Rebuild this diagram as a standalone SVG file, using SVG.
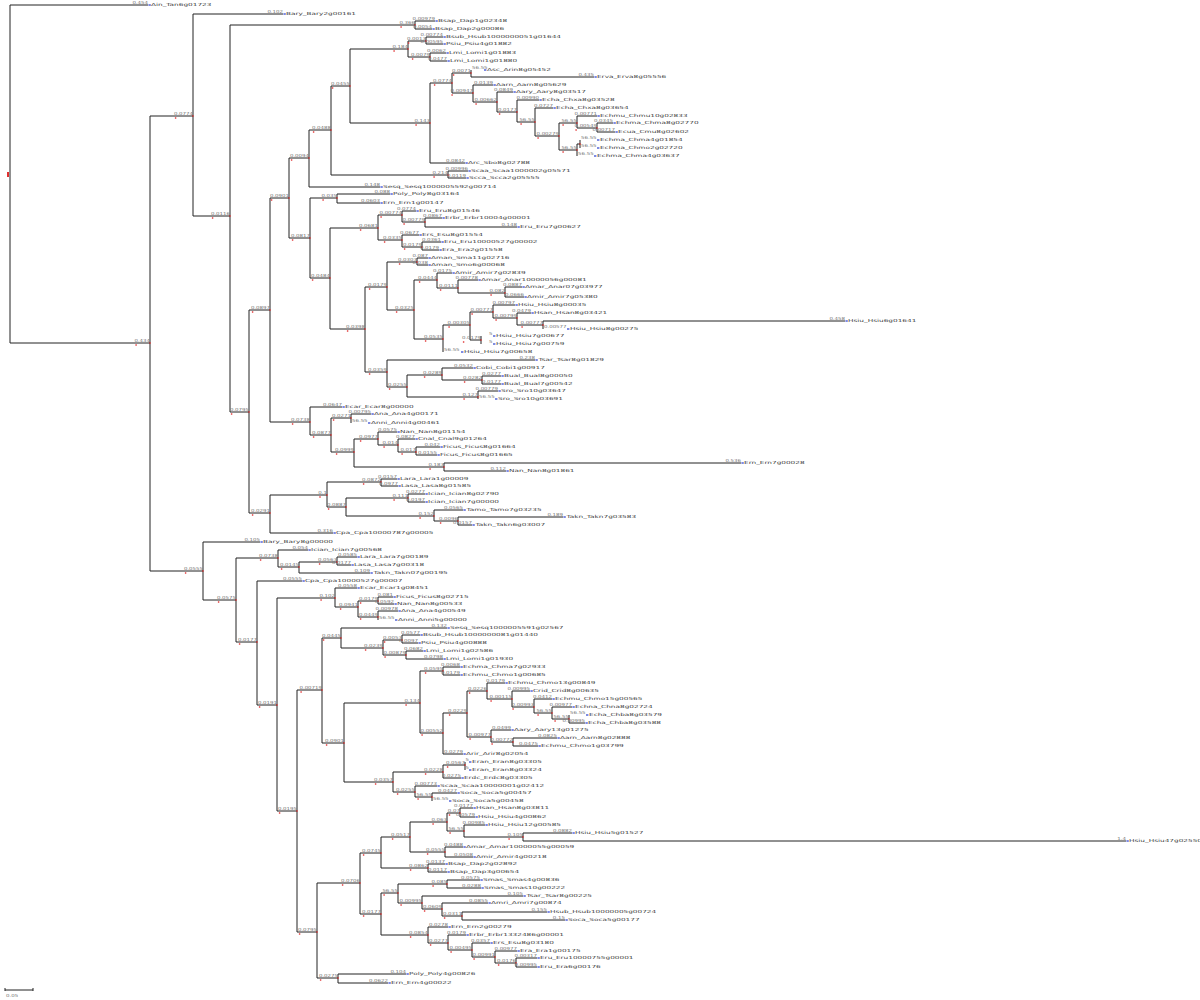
<svg xmlns="http://www.w3.org/2000/svg" width="1200" height="1000" viewBox="0 0 1200 1000">
<style>
.b{font-family:"DejaVu Sans",sans-serif;font-size:4.2px;fill:#777;text-anchor:end;transform-box:fill-box;transform-origin:100% 50%;transform:scaleX(1.3)}
.bs{font-family:"DejaVu Sans",sans-serif;font-size:4.2px;fill:#777;transform-box:fill-box;transform-origin:0 50%;transform:scaleX(1.3)}
.t{font-family:"DejaVu Sans",sans-serif;font-size:4.2px;fill:#444;transform-box:fill-box;transform-origin:0 50%;transform:scaleX(1.75)}
.m{fill:#2a3fd0;width:2.4px;height:1.2px}
.r{fill:#e03030;width:1.4px;height:1.4px}
</style>
<rect width="1200" height="1000" fill="#fff"/>
<g id="connectors" fill="none" stroke="#222" stroke-width="1">
<path d="M10 5V343M10 5H148"/>
<path d="M10 343H150M150 116V571"/>
<path d="M150 116H193M193 14V216M193 14H283"/>
<path d="M193 216H230M230 25V412"/>
<path d="M230 25H415M415 21V29M415 21H435M415 29H432"/>
<path d="M230 412H249M249 310V513"/>
<path d="M249 310H270M270 198V422"/>
<path d="M270 198H289M289 158V238"/>
<path d="M289 158H309M309 130V187M309 187H380"/>
<path d="M309 130H331M331 86V175"/>
<path d="M331 86H350M350 49V123"/>
<path d="M350 49H408M408 41V57"/>
<path d="M408 41H426M426 37V44M426 37H443M426 44H443"/>
<path d="M408 57H430M430 53V61M430 53H446M430 61H447"/>
<path d="M350 123H430M430 83V163M430 163H465"/>
<path d="M430 83H452M452 73V93"/>
<path d="M452 73H471M471 70V77M471 77H594"/>
<path d="M452 93H473M473 85V102M473 85H493"/>
<path d="M473 102H497M497 92V112M497 92H513"/>
<path d="M497 112H517M517 100V122M517 100H539"/>
<path d="M517 122H535M535 108V136M535 108H553"/>
<path d="M535 136H559M559 123V150"/>
<path d="M559 123H577M577 116V128M577 116H597"/>
<path d="M577 128H597M597 123V132M597 123H613M597 132H615"/>
<path d="M559 150H577M577 144V156M577 144H580M580 140V148"/>
<path d="M331 175H448M448 171V178M448 171H468M448 178H466"/>
<path d="M289 238H310M310 198V278"/>
<path d="M310 198H337M337 194V203M337 194H390M337 203H380"/>
<path d="M310 278H330M330 228V329"/>
<path d="M330 228H378M378 215V240"/>
<path d="M378 215H402M402 211V222M402 211H416"/>
<path d="M402 222H425M425 218V227M425 218H442M425 227H517"/>
<path d="M378 240H402M402 235V247M402 235H419"/>
<path d="M402 247H422M422 242V250M422 242H441M422 250H439"/>
<path d="M330 329H365M365 287V372"/>
<path d="M365 287H387M387 262V310"/>
<path d="M387 262H417M417 258V265M417 258H428M417 265H428"/>
<path d="M387 310H414M414 280V339"/>
<path d="M414 280H437M437 273V288M437 273H452"/>
<path d="M437 288H458M458 280V293M458 280H478"/>
<path d="M458 293H505M505 287V297M505 287H522M505 297H524"/>
<path d="M414 339H443M443 325V352"/>
<path d="M443 325H470M470 312V340"/>
<path d="M470 312H493M493 305V318M493 305H515"/>
<path d="M493 318H517M517 313V325M517 313H531"/>
<path d="M517 325H543M543 321V329M543 321H845"/>
<path d="M470 340H481M481 336V344"/>
<path d="M365 372H387M387 360V387M387 360H535"/>
<path d="M387 387H407M407 375V397"/>
<path d="M407 375H442M442 368V380M442 368H473"/>
<path d="M442 380H482M482 376V384M482 376H501M482 384H501"/>
<path d="M407 397H478M478 391V399M478 391H498"/>
<path d="M270 422H310M310 407V435M310 407H342"/>
<path d="M310 435H331M331 418V452"/>
<path d="M331 418H351M351 414V423M351 414H371"/>
<path d="M331 452H354M354 439V467"/>
<path d="M354 439H378M378 432V445M378 432H397"/>
<path d="M378 445H398M398 439V452M398 439H415"/>
<path d="M398 452H416M416 447V455M416 447H440M416 455H437"/>
<path d="M354 467H444M444 463V471M444 463H741M444 471H506"/>
<path d="M249 513H270M270 495V533M270 533H333"/>
<path d="M270 495H327M327 482V507"/>
<path d="M327 482H381M381 479V486M381 479H397M381 486H398"/>
<path d="M327 507H346M346 498V516"/>
<path d="M346 498H408M408 494V502M408 494H425M408 502H425"/>
<path d="M346 516H434M434 510V521M434 510H463"/>
<path d="M434 521H458M458 517V525M458 517H563M458 525H472"/>
<path d="M150 571H203M203 542V600M203 542H260"/>
<path d="M203 600H236M236 558V642"/>
<path d="M236 558H278M278 550V567M278 550H308"/>
<path d="M278 567H299M299 562V573M299 573H370"/>
<path d="M299 562H337M337 557V565M337 557H357M337 565H351"/>
<path d="M236 642H257M257 581V705M257 581H302"/>
<path d="M257 705H277M277 598V811"/>
<path d="M277 598H335M335 588V607M335 588H357"/>
<path d="M335 607H358M358 601V617"/>
<path d="M358 601H378M378 597V604M378 597H393M378 604H394"/>
<path d="M358 617H378M378 611V620M378 611H398"/>
<path d="M277 811H297M297 690V932"/>
<path d="M297 690H322M322 638V743"/>
<path d="M322 638H341M341 628V648M341 628H447"/>
<path d="M341 648H383M383 640V655"/>
<path d="M383 640H402M402 635V643M402 635H420M402 643H418"/>
<path d="M383 655H406M406 651V659M406 651H423M406 659H443"/>
<path d="M322 743H344M344 703V782"/>
<path d="M344 703H420M420 671V733"/>
<path d="M420 671H443M443 667V675M443 667H460M443 675H460"/>
<path d="M420 733H443M443 713V754M443 754H463"/>
<path d="M443 713H467M467 691V737"/>
<path d="M467 691H487M487 683V699M487 683H505"/>
<path d="M487 699H512M512 691V707M512 691H530"/>
<path d="M512 707H534M534 699V713M534 699H552"/>
<path d="M534 713H552M552 707V719M552 707H572"/>
<path d="M552 719H569M569 715V723M569 723H585"/>
<path d="M467 737H491M491 730V742M491 730H511"/>
<path d="M491 742H513M513 738V746M513 738H557M513 746H538"/>
<path d="M344 782H393M393 772V792"/>
<path d="M393 772H443M443 765V778M443 778H461"/>
<path d="M443 765H465M465 762V770"/>
<path d="M393 792H415M415 786V797M415 786H437"/>
<path d="M415 797H432M432 793V801M432 793H457"/>
<path d="M297 932H317M317 883V978"/>
<path d="M317 883H360M360 853V914"/>
<path d="M360 853H381M381 837V868"/>
<path d="M381 837H410M410 822V852"/>
<path d="M410 822H447M447 813V831"/>
<path d="M447 813H460M460 808V817M460 808H473M460 817H475"/>
<path d="M447 831H464M464 825V837M464 825H485"/>
<path d="M464 837H523M523 833V841M523 833H572M523 841H1126"/>
<path d="M410 852H445M445 847V857M445 847H463M445 857H473"/>
<path d="M381 868H428M428 864V872M428 864H445M428 872H447"/>
<path d="M360 914H381M381 893V935"/>
<path d="M381 893H398M398 884V903"/>
<path d="M398 884H447M447 880V888M447 880H480M447 888H481"/>
<path d="M398 903H422M422 896V909M422 896H523"/>
<path d="M422 909H442M442 903V916M442 903H488"/>
<path d="M442 916H462M462 912V920M462 912H547M462 920H565"/>
<path d="M381 935H428M428 927V943M428 927H448"/>
<path d="M428 943H448M448 935V950M448 935H466"/>
<path d="M448 950H472M472 943V957M472 943H490"/>
<path d="M472 957H495M495 951V963M495 951H517"/>
<path d="M495 963H516M516 958V967M516 958H537M516 967H537"/>
<path d="M317 978H338M338 974V983M338 974H406M338 983H388"/>
</g>
<g id="root"><rect x="7" y="172" width="2" height="5" fill="#e03030"/></g>
<g id="n01"><text class="b" x="150" y="342.2">0.434</text><rect class="r" x="149.3" y="342.3"/><rect class="r" x="135.4" y="344.3"/></g>
<g id="n02"><text class="b" x="193" y="115.2">0.0774</text><rect class="r" x="192.3" y="115.3"/><rect class="r" x="174.9" y="117.3"/></g>
<g id="n03"><text class="b" x="230" y="215.2">0.0116</text><rect class="r" x="229.3" y="215.3"/><rect class="r" x="211.9" y="217.3"/></g>
<g id="n04"><text class="b" x="415" y="24.2">0.366</text><rect class="r" x="414.3" y="24.3"/><rect class="r" x="400.4" y="26.3"/></g>
<g id="n06"><text class="b" x="249" y="411.2">0.0795</text><rect class="r" x="248.3" y="411.3"/><rect class="r" x="230.9" y="413.3"/></g>
<g id="n07"><text class="b" x="270" y="309.2">0.0897</text><rect class="r" x="269.3" y="309.3"/><rect class="r" x="251.9" y="311.3"/></g>
<g id="n08"><text class="b" x="289" y="197.2">0.0901</text><rect class="r" x="288.3" y="197.3"/><rect class="r" x="270.9" y="199.3"/></g>
<g id="n09"><text class="b" x="309" y="157.2">0.0094</text><rect class="r" x="308.3" y="157.3"/><rect class="r" x="290.9" y="159.3"/></g>
<g id="n10"><text class="b" x="331" y="129.2">0.0488</text><rect class="r" x="330.3" y="129.3"/><rect class="r" x="312.9" y="131.3"/></g>
<g id="n11"><text class="b" x="350" y="85.2">0.0455</text><rect class="r" x="349.3" y="85.3"/><rect class="r" x="331.9" y="87.3"/></g>
<g id="n12"><text class="b" x="408" y="48.2">0.184</text><rect class="r" x="407.3" y="48.3"/><rect class="r" x="393.4" y="50.3"/></g>
<g id="n13"><text class="b" x="426" y="40.2">0.0013</text><rect class="r" x="425.3" y="40.3"/><rect class="r" x="407.9" y="42.3"/></g>
<g id="n14"><text class="b" x="430" y="56.2">0.0079</text><rect class="r" x="429.3" y="56.3"/><rect class="r" x="411.9" y="58.3"/></g>
<g id="n15"><text class="b" x="430" y="122.2">0.143</text><rect class="r" x="429.3" y="122.3"/><rect class="r" x="415.4" y="124.3"/></g>
<g id="n16"><text class="b" x="452" y="82.2">0.0774</text><rect class="r" x="451.3" y="82.3"/><rect class="r" x="433.9" y="84.3"/></g>
<g id="n17"><text class="b" x="471" y="72.2">0.0071</text><rect class="r" x="470.3" y="72.3"/><rect class="r" x="452.9" y="74.3"/></g>
<g id="n18"><text class="b" x="473" y="92.2">0.00947</text><rect class="r" x="472.3" y="92.3"/><rect class="r" x="451.4" y="94.3"/></g>
<g id="n19"><text class="b" x="497" y="101.2">0.00662</text><rect class="r" x="496.3" y="101.3"/><rect class="r" x="475.4" y="103.3"/></g>
<g id="n20"><text class="b" x="517" y="111.2">0.0177</text><rect class="r" x="516.3" y="111.3"/><rect class="r" x="498.9" y="113.3"/></g>
<g id="n21"><text class="b" x="535" y="121.2">56.55</text><rect class="r" x="534.3" y="121.3"/><rect class="r" x="520.4" y="123.3"/></g>
<g id="n22"><text class="b" x="559" y="135.2">0.00279</text><rect class="r" x="558.3" y="135.3"/><rect class="r" x="537.4" y="137.3"/></g>
<g id="n23"><text class="b" x="577" y="122.2">56.55</text><rect class="r" x="576.3" y="122.3"/><rect class="r" x="562.4" y="124.3"/></g>
<g id="n24"><text class="b" x="597" y="127.2">0.00549</text><rect class="r" x="596.3" y="127.3"/><rect class="r" x="575.4" y="129.3"/></g>
<g id="n25"><text class="b" x="577" y="149.2">56.55</text><rect class="r" x="576.3" y="149.3"/><rect class="r" x="562.4" y="151.3"/></g>
<g id="n26"><rect class="r" x="579.3" y="143.3"/></g>
<g id="n27"><text class="b" x="448" y="174.2">0.214</text><rect class="r" x="447.3" y="174.3"/><rect class="r" x="433.4" y="176.3"/></g>
<g id="n28"><text class="b" x="310" y="237.2">0.0817</text><rect class="r" x="309.3" y="237.3"/><rect class="r" x="291.9" y="239.3"/></g>
<g id="n29"><text class="b" x="337" y="197.2">0.035</text><rect class="r" x="336.3" y="197.3"/><rect class="r" x="322.4" y="199.3"/></g>
<g id="n30"><text class="b" x="330" y="277.2">0.0484</text><rect class="r" x="329.3" y="277.3"/><rect class="r" x="311.9" y="279.3"/></g>
<g id="n31"><text class="b" x="378" y="227.2">0.0681</text><rect class="r" x="377.3" y="227.3"/><rect class="r" x="359.9" y="229.3"/></g>
<g id="n32"><text class="b" x="402" y="214.2">0.00774</text><rect class="r" x="401.3" y="214.3"/><rect class="r" x="380.4" y="216.3"/></g>
<g id="n33"><text class="b" x="425" y="221.2">0.00779</text><rect class="r" x="424.3" y="221.3"/><rect class="r" x="403.4" y="223.3"/></g>
<g id="n34"><text class="b" x="402" y="239.2">0.0335</text><rect class="r" x="401.3" y="239.3"/><rect class="r" x="383.9" y="241.3"/></g>
<g id="n35"><text class="b" x="422" y="246.2">0.0179</text><rect class="r" x="421.3" y="246.3"/><rect class="r" x="403.9" y="248.3"/></g>
<g id="n36"><text class="b" x="365" y="328.2">0.0398</text><rect class="r" x="364.3" y="328.3"/><rect class="r" x="346.9" y="330.3"/></g>
<g id="n37"><text class="b" x="387" y="286.2">0.0179</text><rect class="r" x="386.3" y="286.3"/><rect class="r" x="368.9" y="288.3"/></g>
<g id="n38"><text class="b" x="417" y="261.2">0.0303</text><rect class="r" x="416.3" y="261.3"/><rect class="r" x="398.9" y="263.3"/></g>
<g id="n39"><text class="b" x="414" y="309.2">0.0325</text><rect class="r" x="413.3" y="309.3"/><rect class="r" x="395.9" y="311.3"/></g>
<g id="n40"><text class="b" x="437" y="279.2">0.0444</text><rect class="r" x="436.3" y="279.3"/><rect class="r" x="418.9" y="281.3"/></g>
<g id="n41"><text class="b" x="458" y="287.2">0.0111</text><rect class="r" x="457.3" y="287.3"/><rect class="r" x="439.9" y="289.3"/></g>
<g id="n42"><text class="b" x="505" y="292.2">0.082</text><rect class="r" x="504.3" y="292.3"/><rect class="r" x="490.4" y="294.3"/></g>
<g id="n43"><text class="b" x="443" y="338.2">0.0535</text><rect class="r" x="442.3" y="338.3"/><rect class="r" x="424.9" y="340.3"/></g>
<g id="n44"><text class="b" x="470" y="324.2">0.00305</text><rect class="r" x="469.3" y="324.3"/><rect class="r" x="448.4" y="326.3"/></g>
<g id="n45"><text class="b" x="493" y="311.2">0.00777</text><rect class="r" x="492.3" y="311.3"/><rect class="r" x="471.4" y="313.3"/></g>
<g id="n46"><text class="b" x="517" y="317.2">0.00799</text><rect class="r" x="516.3" y="317.3"/><rect class="r" x="495.4" y="319.3"/></g>
<g id="n47"><text class="b" x="543" y="324.2">0.00777</text><rect class="r" x="542.3" y="324.3"/><rect class="r" x="521.4" y="326.3"/></g>
<g id="n48"><text class="b" x="481" y="339.2">0.0179</text><rect class="r" x="480.3" y="339.3"/><rect class="r" x="462.9" y="341.3"/></g>
<g id="n49"><text class="b" x="387" y="371.2">0.0359</text><rect class="r" x="386.3" y="371.3"/><rect class="r" x="368.9" y="373.3"/></g>
<g id="n50"><text class="b" x="407" y="386.2">0.0255</text><rect class="r" x="406.3" y="386.3"/><rect class="r" x="388.9" y="388.3"/></g>
<g id="n51"><text class="b" x="442" y="374.2">0.0289</text><rect class="r" x="441.3" y="374.3"/><rect class="r" x="423.9" y="376.3"/></g>
<g id="n52"><text class="b" x="482" y="379.2">0.0282</text><rect class="r" x="481.3" y="379.3"/><rect class="r" x="463.9" y="381.3"/></g>
<g id="n53"><text class="b" x="478" y="396.2">0.127</text><rect class="r" x="477.3" y="396.3"/><rect class="r" x="463.4" y="398.3"/></g>
<g id="n54"><text class="b" x="310" y="421.2">0.0738</text><rect class="r" x="309.3" y="421.3"/><rect class="r" x="291.9" y="423.3"/></g>
<g id="n55"><text class="b" x="331" y="434.2">0.0877</text><rect class="r" x="330.3" y="434.3"/><rect class="r" x="312.9" y="436.3"/></g>
<g id="n56"><text class="b" x="351" y="417.2">0.0271</text><rect class="r" x="350.3" y="417.3"/><rect class="r" x="332.9" y="419.3"/></g>
<g id="n57"><text class="b" x="354" y="451.2">0.0999</text><rect class="r" x="353.3" y="451.3"/><rect class="r" x="335.9" y="453.3"/></g>
<g id="n58"><text class="b" x="378" y="438.2">0.0977</text><rect class="r" x="377.3" y="438.3"/><rect class="r" x="359.9" y="440.3"/></g>
<g id="n59"><text class="b" x="398" y="444.2">0.014</text><rect class="r" x="397.3" y="444.3"/><rect class="r" x="383.4" y="446.3"/></g>
<g id="n60"><text class="b" x="416" y="451.2">0.017</text><rect class="r" x="415.3" y="451.3"/><rect class="r" x="401.4" y="453.3"/></g>
<g id="n61"><text class="b" x="444" y="466.2">0.183</text><rect class="r" x="443.3" y="466.3"/><rect class="r" x="429.4" y="468.3"/></g>
<g id="n62"><text class="b" x="270" y="512.2">0.0291</text><rect class="r" x="269.3" y="512.3"/><rect class="r" x="251.9" y="514.3"/></g>
<g id="n63"><text class="b" x="327" y="494.2">0.1</text><rect class="r" x="326.3" y="494.3"/><rect class="r" x="319.3" y="496.3"/></g>
<g id="n64"><text class="b" x="381" y="481.2">0.0872</text><rect class="r" x="380.3" y="481.3"/><rect class="r" x="362.9" y="483.3"/></g>
<g id="n65"><text class="b" x="346" y="506.2">0.0887</text><rect class="r" x="345.3" y="506.3"/><rect class="r" x="327.9" y="508.3"/></g>
<g id="n66"><text class="b" x="408" y="497.2">0.111</text><rect class="r" x="407.3" y="497.3"/><rect class="r" x="393.4" y="499.3"/></g>
<g id="n67"><text class="b" x="434" y="515.2">0.152</text><rect class="r" x="433.3" y="515.3"/><rect class="r" x="419.4" y="517.3"/></g>
<g id="n68"><text class="b" x="458" y="520.2">0.0096</text><rect class="r" x="457.3" y="520.3"/><rect class="r" x="439.9" y="522.3"/></g>
<g id="n69"><text class="b" x="203" y="570.2">0.0555</text><rect class="r" x="202.3" y="570.3"/><rect class="r" x="184.9" y="572.3"/></g>
<g id="n70"><text class="b" x="236" y="599.2">0.0575</text><rect class="r" x="235.3" y="599.3"/><rect class="r" x="217.9" y="601.3"/></g>
<g id="n71"><text class="b" x="278" y="557.2">0.0738</text><rect class="r" x="277.3" y="557.3"/><rect class="r" x="259.9" y="559.3"/></g>
<g id="n72"><text class="b" x="299" y="566.2">0.0145</text><rect class="r" x="298.3" y="566.3"/><rect class="r" x="280.9" y="568.3"/></g>
<g id="n73"><text class="b" x="337" y="561.2">0.0563</text><rect class="r" x="336.3" y="561.3"/><rect class="r" x="318.9" y="563.3"/></g>
<g id="n74"><text class="b" x="257" y="641.2">0.0177</text><rect class="r" x="256.3" y="641.3"/><rect class="r" x="238.9" y="643.3"/></g>
<g id="n75"><text class="b" x="277" y="704.2">0.0191</text><rect class="r" x="276.3" y="704.3"/><rect class="r" x="258.9" y="706.3"/></g>
<g id="n76"><text class="b" x="335" y="597.2">0.102</text><rect class="r" x="334.3" y="597.3"/><rect class="r" x="320.4" y="599.3"/></g>
<g id="n77"><text class="b" x="358" y="606.2">0.0941</text><rect class="r" x="357.3" y="606.3"/><rect class="r" x="339.9" y="608.3"/></g>
<g id="n78"><text class="b" x="378" y="600.2">0.0179</text><rect class="r" x="377.3" y="600.3"/><rect class="r" x="359.9" y="602.3"/></g>
<g id="n79"><text class="b" x="378" y="616.2">0.0449</text><rect class="r" x="377.3" y="616.3"/><rect class="r" x="359.9" y="618.3"/></g>
<g id="n80"><text class="b" x="297" y="810.2">0.0195</text><rect class="r" x="296.3" y="810.3"/><rect class="r" x="278.9" y="812.3"/></g>
<g id="n81"><text class="b" x="322" y="689.2">0.00719</text><rect class="r" x="321.3" y="689.3"/><rect class="r" x="300.4" y="691.3"/></g>
<g id="n82"><text class="b" x="341" y="637.2">0.0445</text><rect class="r" x="340.3" y="637.3"/><rect class="r" x="322.9" y="639.3"/></g>
<g id="n83"><text class="b" x="383" y="647.2">0.0239</text><rect class="r" x="382.3" y="647.3"/><rect class="r" x="364.9" y="649.3"/></g>
<g id="n84"><text class="b" x="402" y="639.2">0.0053</text><rect class="r" x="401.3" y="639.3"/><rect class="r" x="383.9" y="641.3"/></g>
<g id="n85"><text class="b" x="406" y="654.2">0.00879</text><rect class="r" x="405.3" y="654.3"/><rect class="r" x="384.4" y="656.3"/></g>
<g id="n86"><text class="b" x="344" y="742.2">0.0901</text><rect class="r" x="343.3" y="742.3"/><rect class="r" x="325.9" y="744.3"/></g>
<g id="n87"><text class="b" x="420" y="702.2">0.134</text><rect class="r" x="419.3" y="702.3"/><rect class="r" x="405.4" y="704.3"/></g>
<g id="n88"><text class="b" x="443" y="670.2">0.0595</text><rect class="r" x="442.3" y="670.3"/><rect class="r" x="424.9" y="672.3"/></g>
<g id="n89"><text class="b" x="443" y="732.2">0.00552</text><rect class="r" x="442.3" y="732.3"/><rect class="r" x="421.4" y="734.3"/></g>
<g id="n90"><text class="b" x="467" y="712.2">0.0229</text><rect class="r" x="466.3" y="712.3"/><rect class="r" x="448.9" y="714.3"/></g>
<g id="n91"><text class="b" x="487" y="690.2">0.0226</text><rect class="r" x="486.3" y="690.3"/><rect class="r" x="468.9" y="692.3"/></g>
<g id="n92"><text class="b" x="512" y="698.2">0.00115</text><rect class="r" x="511.3" y="698.3"/><rect class="r" x="490.4" y="700.3"/></g>
<g id="n93"><text class="b" x="534" y="706.2">0.00993</text><rect class="r" x="533.3" y="706.3"/><rect class="r" x="512.4" y="708.3"/></g>
<g id="n94"><text class="b" x="552" y="712.2">56.55</text><rect class="r" x="551.3" y="712.3"/><rect class="r" x="537.4" y="714.3"/></g>
<g id="n95"><text class="b" x="569" y="718.2">56.55</text><rect class="r" x="568.3" y="718.3"/><rect class="r" x="554.4" y="720.3"/></g>
<g id="n96"><text class="b" x="491" y="736.2">0.00977</text><rect class="r" x="490.3" y="736.3"/><rect class="r" x="469.4" y="738.3"/></g>
<g id="n97"><text class="b" x="513" y="741.2">0.00772</text><rect class="r" x="512.3" y="741.3"/><rect class="r" x="491.4" y="743.3"/></g>
<g id="n98"><text class="b" x="393" y="781.2">0.0357</text><rect class="r" x="392.3" y="781.3"/><rect class="r" x="374.9" y="783.3"/></g>
<g id="n99"><text class="b" x="443" y="771.2">0.0228</text><rect class="r" x="442.3" y="771.3"/><rect class="r" x="424.9" y="773.3"/></g>
<g id="n100"><text class="b" x="465" y="764.2">0.0567</text><rect class="r" x="464.3" y="764.3"/><rect class="r" x="446.9" y="766.3"/></g>
<g id="n101"><text class="b" x="415" y="791.2">0.0255</text><rect class="r" x="414.3" y="791.3"/><rect class="r" x="396.9" y="793.3"/></g>
<g id="n102"><text class="b" x="432" y="796.2">56.55</text><rect class="r" x="431.3" y="796.3"/><rect class="r" x="417.4" y="798.3"/></g>
<g id="n103"><text class="b" x="317" y="931.2">0.0795</text><rect class="r" x="316.3" y="931.3"/><rect class="r" x="298.9" y="933.3"/></g>
<g id="n104"><text class="b" x="360" y="882.2">0.0706</text><rect class="r" x="359.3" y="882.3"/><rect class="r" x="341.9" y="884.3"/></g>
<g id="n105"><text class="b" x="381" y="852.2">0.0745</text><rect class="r" x="380.3" y="852.3"/><rect class="r" x="362.9" y="854.3"/></g>
<g id="n106"><text class="b" x="410" y="836.2">0.0517</text><rect class="r" x="409.3" y="836.3"/><rect class="r" x="391.9" y="838.3"/></g>
<g id="n107"><text class="b" x="447" y="821.2">0.063</text><rect class="r" x="446.3" y="821.3"/><rect class="r" x="432.4" y="823.3"/></g>
<g id="n108"><text class="b" x="460" y="812.2">0.07</text><rect class="r" x="459.3" y="812.3"/><rect class="r" x="448.8" y="814.3"/></g>
<g id="n109"><text class="b" x="464" y="830.2">56.55</text><rect class="r" x="463.3" y="830.3"/><rect class="r" x="449.4" y="832.3"/></g>
<g id="n110"><text class="b" x="523" y="836.2">0.105</text><rect class="r" x="522.3" y="836.3"/><rect class="r" x="508.4" y="838.3"/></g>
<g id="n111"><text class="b" x="445" y="851.2">0.0555</text><rect class="r" x="444.3" y="851.3"/><rect class="r" x="426.9" y="853.3"/></g>
<g id="n112"><text class="b" x="428" y="867.2">0.0862</text><rect class="r" x="427.3" y="867.3"/><rect class="r" x="409.9" y="869.3"/></g>
<g id="n113"><text class="b" x="381" y="913.2">0.0177</text><rect class="r" x="380.3" y="913.3"/><rect class="r" x="362.9" y="915.3"/></g>
<g id="n114"><text class="b" x="398" y="892.2">56.55</text><rect class="r" x="397.3" y="892.3"/><rect class="r" x="383.4" y="894.3"/></g>
<g id="n115"><text class="b" x="447" y="883.2">0.085</text><rect class="r" x="446.3" y="883.3"/><rect class="r" x="432.4" y="885.3"/></g>
<g id="n116"><text class="b" x="422" y="902.2">0.00995</text><rect class="r" x="421.3" y="902.3"/><rect class="r" x="400.4" y="904.3"/></g>
<g id="n117"><text class="b" x="442" y="908.2">0.0609</text><rect class="r" x="441.3" y="908.3"/><rect class="r" x="423.9" y="910.3"/></g>
<g id="n118"><text class="b" x="462" y="915.2">0.0311</text><rect class="r" x="461.3" y="915.3"/><rect class="r" x="443.9" y="917.3"/></g>
<g id="n119"><text class="b" x="428" y="934.2">0.0854</text><rect class="r" x="427.3" y="934.3"/><rect class="r" x="409.9" y="936.3"/></g>
<g id="n120"><text class="b" x="448" y="942.2">0.0277</text><rect class="r" x="447.3" y="942.3"/><rect class="r" x="429.9" y="944.3"/></g>
<g id="n121"><text class="b" x="472" y="949.2">0.00495</text><rect class="r" x="471.3" y="949.3"/><rect class="r" x="450.4" y="951.3"/></g>
<g id="n122"><text class="b" x="495" y="956.2">0.00991</text><rect class="r" x="494.3" y="956.3"/><rect class="r" x="473.4" y="958.3"/></g>
<g id="n123"><text class="b" x="516" y="962.2">0.0176</text><rect class="r" x="515.3" y="962.3"/><rect class="r" x="497.9" y="964.3"/></g>
<g id="n124"><text class="b" x="338" y="977.2">0.0275</text><rect class="r" x="337.3" y="977.3"/><rect class="r" x="319.9" y="979.3"/></g>
<g id="lf001"><text class="b" x="148" y="4.2">0.454</text><rect class="m" x="148.4" y="4.4"/><text class="t" x="151" y="6.5">Ain_Tan6g01723</text></g>
<g id="lf002"><text class="b" x="283" y="13.2">0.102</text><rect class="m" x="283.4" y="13.4"/><text class="t" x="286" y="15.5">Bary_Bary2g00161</text></g>
<g id="lf003"><text class="b" x="435" y="20.2">0.00979</text><rect class="m" x="435.4" y="20.4"/><text class="t" x="438" y="22.5">Bsap_Dap1g02348</text></g>
<g id="lf004"><text class="b" x="432" y="28.2">0.0054</text><rect class="m" x="432.4" y="28.4"/><text class="t" x="435" y="30.5">Bsap_Dap2g00086</text></g>
<g id="lf005"><text class="b" x="443" y="36.2">0.00774</text><rect class="m" x="443.4" y="36.4"/><text class="t" x="446" y="38.5">Bsub_Hsub1000000051g01644</text></g>
<g id="lf006"><text class="b" x="443" y="43.2">0.00595</text><rect class="m" x="443.4" y="43.4"/><text class="t" x="446" y="45.5">Psiu_Psiu4g01882</text></g>
<g id="lf007"><text class="b" x="446" y="52.2">0.0062</text><rect class="m" x="446.4" y="52.4"/><text class="t" x="449" y="54.5">Lmi_Lomi1g01883</text></g>
<g id="lf008"><text class="b" x="447" y="60.2">0.0477</text><rect class="m" x="447.4" y="60.4"/><text class="t" x="450" y="62.5">Lmi_Lomi1g01880</text></g>
<g id="lf009"><text class="bs" x="472" y="69.2">56.55</text><rect class="m" x="484" y="69.4"/><text class="t" x="487" y="71.5">Asc_Arin8g05452</text></g>
<g id="lf010"><text class="b" x="594" y="76.2">0.435</text><rect class="m" x="594.4" y="76.4"/><text class="t" x="597" y="78.5">Erva_Erva8g05556</text></g>
<g id="lf011"><text class="b" x="493" y="84.2">0.0139</text><rect class="m" x="493.4" y="84.4"/><text class="t" x="496" y="86.5">Aarn_Aarn8g05629</text></g>
<g id="lf012"><text class="b" x="513" y="91.2">0.0849</text><rect class="m" x="513.4" y="91.4"/><text class="t" x="516" y="93.5">Aary_Aary8g03517</text></g>
<g id="lf013"><text class="b" x="539" y="99.2">0.00990</text><rect class="m" x="539.4" y="99.4"/><text class="t" x="542" y="101.5">Echa_Chxa8g03528</text></g>
<g id="lf014"><text class="b" x="553" y="107.2">0.0727</text><rect class="m" x="553.4" y="107.4"/><text class="t" x="556" y="109.5">Echa_Chxa8g03654</text></g>
<g id="lf015"><text class="b" x="597" y="115.2">0.00771</text><rect class="m" x="597.4" y="115.4"/><text class="t" x="600" y="117.5">Echmu_Chmu10g02833</text></g>
<g id="lf016"><text class="b" x="613" y="122.2">0.0345</text><rect class="m" x="613.4" y="122.4"/><text class="t" x="616" y="124.5">Echma_Chma8g02770</text></g>
<g id="lf017"><text class="b" x="615" y="131.2">0.00717</text><rect class="m" x="615.4" y="131.4"/><text class="t" x="618" y="133.5">Ecua_Cmu8g02602</text></g>
<g id="lf018"><text class="bs" x="581" y="139.2">56.55</text><rect class="m" x="597" y="139.4"/><text class="t" x="600" y="141.5">Echma_Chma4g01854</text></g>
<g id="lf019"><text class="bs" x="581" y="147.2">56.55</text><rect class="m" x="597" y="147.4"/><text class="t" x="600" y="149.5">Echma_Chmo2g02720</text></g>
<g id="lf020"><text class="bs" x="578" y="155.2">56.55</text><rect class="m" x="594" y="155.4"/><text class="t" x="597" y="157.5">Echma_Chma4g03637</text></g>
<g id="lf021"><text class="b" x="465" y="162.2">0.0842</text><rect class="m" x="465.4" y="162.4"/><text class="t" x="468" y="164.5">Arc_Sbo8g02788</text></g>
<g id="lf022"><text class="b" x="468" y="170.2">0.00996</text><rect class="m" x="468.4" y="170.4"/><text class="t" x="471" y="172.5">Scaa_Scaa1000002g05571</text></g>
<g id="lf023"><text class="b" x="466" y="177.2">0.0119</text><rect class="m" x="466.4" y="177.4"/><text class="t" x="469" y="179.5">Scca_Scca2g05555</text></g>
<g id="lf024"><text class="b" x="380" y="186.2">0.148</text><rect class="m" x="380.4" y="186.4"/><text class="t" x="383" y="188.5">Sesq_Sesq1000005592g00714</text></g>
<g id="lf025"><text class="b" x="390" y="193.2">0.088</text><rect class="m" x="390.4" y="193.4"/><text class="t" x="393" y="195.5">Poly_Poly8g03164</text></g>
<g id="lf026"><text class="b" x="380" y="202.2">0.0603</text><rect class="m" x="380.4" y="202.4"/><text class="t" x="383" y="204.5">Ern_Ern1g00147</text></g>
<g id="lf027"><text class="b" x="416" y="210.2">0.0774</text><rect class="m" x="416.4" y="210.4"/><text class="t" x="419" y="212.5">Eru_Eru8g01546</text></g>
<g id="lf028"><text class="b" x="442" y="217.2">0.0867</text><rect class="m" x="442.4" y="217.4"/><text class="t" x="445" y="219.5">Erbr_Erbr10004g00001</text></g>
<g id="lf029"><text class="b" x="517" y="226.2">0.148</text><rect class="m" x="517.4" y="226.4"/><text class="t" x="520" y="228.5">Eru_Eru7g00627</text></g>
<g id="lf030"><text class="b" x="419" y="234.2">0.0677</text><rect class="m" x="419.4" y="234.4"/><text class="t" x="422" y="236.5">Ers_Esu8g01554</text></g>
<g id="lf031"><text class="b" x="441" y="241.2">0.0361</text><rect class="m" x="441.4" y="241.4"/><text class="t" x="444" y="243.5">Eru_Eru10000527g00002</text></g>
<g id="lf032"><text class="b" x="439" y="249.2">0.0179</text><rect class="m" x="439.4" y="249.4"/><text class="t" x="442" y="251.5">Era_Era2g01558</text></g>
<g id="lf033"><text class="b" x="428" y="257.2">0.087</text><rect class="m" x="428.4" y="257.4"/><text class="t" x="431" y="259.5">Aman_Sma11g02716</text></g>
<g id="lf034"><text class="b" x="428" y="264.2">0.038</text><rect class="m" x="428.4" y="264.4"/><text class="t" x="431" y="266.5">Aman_Smo6g00068</text></g>
<g id="lf035"><text class="b" x="452" y="272.2">0.0175</text><rect class="m" x="452.4" y="272.4"/><text class="t" x="455" y="274.5">Amir_Amir7g02839</text></g>
<g id="lf036"><text class="b" x="478" y="279.2">0.00778</text><rect class="m" x="478.4" y="279.4"/><text class="t" x="481" y="281.5">Amar_Anar10000056g00081</text></g>
<g id="lf037"><text class="b" x="522" y="286.2">0.0887</text><rect class="m" x="522.4" y="286.4"/><text class="t" x="525" y="288.5">Amar_Anar07g03977</text></g>
<g id="lf038"><text class="b" x="524" y="296.2">0.0666</text><rect class="m" x="524.4" y="296.4"/><text class="t" x="527" y="298.5">Amir_Amir7g05380</text></g>
<g id="lf039"><text class="b" x="515" y="304.2">0.00797</text><rect class="m" x="515.4" y="304.4"/><text class="t" x="518" y="306.5">Hsiu_Hsiu8g00035</text></g>
<g id="lf040"><text class="b" x="531" y="312.2">0.0479</text><rect class="m" x="531.4" y="312.4"/><text class="t" x="534" y="314.5">Hsan_Hsan8g03421</text></g>
<g id="lf041"><text class="b" x="845" y="320.2">0.458</text><rect class="m" x="845.4" y="320.4"/><text class="t" x="848" y="322.5">Hsiu_Hsiu6g01641</text></g>
<g id="lf042"><text class="bs" x="544" y="328.2">0.00577</text><rect class="m" x="567" y="328.4"/><text class="t" x="570" y="330.5">Hsiu_Hsiu8g00275</text></g>
<g id="lf043"><text class="bs" x="489" y="335.2">5</text><rect class="m" x="493" y="335.4"/><text class="t" x="496" y="337.5">Hsiu_Hsiu7g00677</text></g>
<g id="lf044"><text class="bs" x="489" y="343.2">5</text><rect class="m" x="493" y="343.4"/><text class="t" x="496" y="345.5">Hsiu_Hsiu7g00759</text></g>
<g id="lf045"><text class="bs" x="444" y="351.2">56.55</text><rect class="m" x="461" y="351.4"/><text class="t" x="464" y="353.5">Hsiu_Hsiu7g00658</text></g>
<g id="lf046"><text class="b" x="535" y="359.2">0.238</text><rect class="m" x="535.4" y="359.4"/><text class="t" x="538" y="361.5">Tsar_Tsar8g01829</text></g>
<g id="lf047"><text class="b" x="473" y="367.2">0.0532</text><rect class="m" x="473.4" y="367.4"/><text class="t" x="476" y="369.5">Cobi_Cobi1g00917</text></g>
<g id="lf048"><text class="b" x="501" y="375.2">0.0277</text><rect class="m" x="501.4" y="375.4"/><text class="t" x="504" y="377.5">Bual_Bual8g00050</text></g>
<g id="lf049"><text class="b" x="501" y="383.2">0.0177</text><rect class="m" x="501.4" y="383.4"/><text class="t" x="504" y="385.5">Bual_Bual7g00542</text></g>
<g id="lf050"><text class="b" x="498" y="390.2">0.00779</text><rect class="m" x="498.4" y="390.4"/><text class="t" x="501" y="392.5">Sro_Sro10g03647</text></g>
<g id="lf051"><text class="bs" x="479" y="398.2">56.55</text><rect class="m" x="495" y="398.4"/><text class="t" x="498" y="400.5">Sro_Sro10g03691</text></g>
<g id="lf052"><text class="b" x="342" y="406.2">0.0647</text><rect class="m" x="342.4" y="406.4"/><text class="t" x="345" y="408.5">Ecar_Ecar8g00000</text></g>
<g id="lf053"><text class="b" x="371" y="413.2">0.00795</text><rect class="m" x="371.4" y="413.4"/><text class="t" x="374" y="415.5">Ana_Ana4g00171</text></g>
<g id="lf054"><text class="bs" x="352" y="422.2">56.55</text><rect class="m" x="368" y="422.4"/><text class="t" x="371" y="424.5">Anni_Anni4g00461</text></g>
<g id="lf055"><text class="b" x="397" y="431.2">0.0575</text><rect class="m" x="397.4" y="431.4"/><text class="t" x="400" y="433.5">Nan_Nan8g01154</text></g>
<g id="lf056"><text class="b" x="415" y="438.2">0.0827</text><rect class="m" x="415.4" y="438.4"/><text class="t" x="418" y="440.5">Cnal_Cnal9g01264</text></g>
<g id="lf057"><text class="b" x="440" y="446.2">0.042</text><rect class="m" x="440.4" y="446.4"/><text class="t" x="443" y="448.5">Ficus_Ficus8g01664</text></g>
<g id="lf058"><text class="b" x="437" y="454.2">0.0155</text><rect class="m" x="437.4" y="454.4"/><text class="t" x="440" y="456.5">Ficus_Ficus8g01665</text></g>
<g id="lf059"><text class="b" x="741" y="462.2">0.536</text><rect class="m" x="741.4" y="462.4"/><text class="t" x="744" y="464.5">Ern_Ern7g00028</text></g>
<g id="lf060"><text class="b" x="506" y="470.2">0.112</text><rect class="m" x="506.4" y="470.4"/><text class="t" x="509" y="472.5">Nan_Nan8g01861</text></g>
<g id="lf061"><text class="b" x="397" y="478.2">0.0157</text><rect class="m" x="397.4" y="478.4"/><text class="t" x="400" y="480.5">Lara_Lara1g00009</text></g>
<g id="lf062"><text class="b" x="398" y="485.2">0.0977</text><rect class="m" x="398.4" y="485.4"/><text class="t" x="401" y="487.5">Lasa_Lasa8g01585</text></g>
<g id="lf063"><text class="b" x="425" y="493.2">0.0277</text><rect class="m" x="425.4" y="493.4"/><text class="t" x="428" y="495.5">Ician_Ician8g02790</text></g>
<g id="lf064"><text class="b" x="425" y="501.2">0.0197</text><rect class="m" x="425.4" y="501.4"/><text class="t" x="428" y="503.5">Ician_Ician7g00000</text></g>
<g id="lf065"><text class="b" x="463" y="509.2">0.0565</text><rect class="m" x="463.4" y="509.4"/><text class="t" x="466" y="511.5">Tamo_Tamo7g03235</text></g>
<g id="lf066"><text class="b" x="563" y="516.2">0.189</text><rect class="m" x="563.4" y="516.4"/><text class="t" x="566" y="518.5">Takn_Takn7g03583</text></g>
<g id="lf067"><text class="b" x="472" y="524.2">0.0157</text><rect class="m" x="472.4" y="524.4"/><text class="t" x="475" y="526.5">Takn_Takn6g03007</text></g>
<g id="lf068"><text class="b" x="333" y="532.2">0.316</text><rect class="m" x="333.4" y="532.4"/><text class="t" x="336" y="534.5">Cpa_Cpa10000787g00005</text></g>
<g id="lf069"><text class="b" x="260" y="541.2">0.105</text><rect class="m" x="260.4" y="541.4"/><text class="t" x="263" y="543.5">Bary_Bary8g00000</text></g>
<g id="lf070"><text class="b" x="308" y="549.2">0.054</text><rect class="m" x="308.4" y="549.4"/><text class="t" x="311" y="551.5">Ician_Ician7g00568</text></g>
<g id="lf071"><text class="b" x="357" y="556.2">0.0585</text><rect class="m" x="357.4" y="556.4"/><text class="t" x="360" y="558.5">Lara_Lara7g00189</text></g>
<g id="lf072"><text class="b" x="351" y="564.2">0.0177</text><rect class="m" x="351.4" y="564.4"/><text class="t" x="354" y="566.5">Lasa_Lasa7g00318</text></g>
<g id="lf073"><text class="b" x="370" y="572.2">0.109</text><rect class="m" x="370.4" y="572.4"/><text class="t" x="373" y="574.5">Takn_Takn07g00195</text></g>
<g id="lf074"><text class="b" x="302" y="580.2">0.0555</text><rect class="m" x="302.4" y="580.4"/><text class="t" x="305" y="582.5">Cpa_Cpa10000527g00007</text></g>
<g id="lf075"><text class="b" x="357" y="587.2">0.0558</text><rect class="m" x="357.4" y="587.4"/><text class="t" x="360" y="589.5">Ecar_Ecar1g08451</text></g>
<g id="lf076"><text class="b" x="393" y="596.2">0.081</text><rect class="m" x="393.4" y="596.4"/><text class="t" x="396" y="598.5">Ficus_Ficus8g02715</text></g>
<g id="lf077"><text class="b" x="394" y="603.2">0.0592</text><rect class="m" x="394.4" y="603.4"/><text class="t" x="397" y="605.5">Nan_Nan8g00533</text></g>
<g id="lf078"><text class="b" x="398" y="610.2">0.00978</text><rect class="m" x="398.4" y="610.4"/><text class="t" x="401" y="612.5">Ana_Ana4g00549</text></g>
<g id="lf079"><text class="bs" x="379" y="619.2">56.55</text><rect class="m" x="395" y="619.4"/><text class="t" x="398" y="621.5">Anni_Anni5g00000</text></g>
<g id="lf080"><text class="b" x="447" y="627.2">0.132</text><rect class="m" x="447.4" y="627.4"/><text class="t" x="450" y="629.5">Sesq_Sesq1000005591g02567</text></g>
<g id="lf081"><text class="b" x="420" y="634.2">0.0577</text><rect class="m" x="420.4" y="634.4"/><text class="t" x="423" y="636.5">Bsub_Hsub1000000081g01440</text></g>
<g id="lf082"><text class="b" x="418" y="642.2">0.0097</text><rect class="m" x="418.4" y="642.4"/><text class="t" x="421" y="644.5">Psiu_Psiu4g00888</text></g>
<g id="lf083"><text class="b" x="423" y="650.2">0.0682</text><rect class="m" x="423.4" y="650.4"/><text class="t" x="426" y="652.5">Lmi_Lomi1g02586</text></g>
<g id="lf084"><text class="b" x="443" y="658.2">0.0798</text><rect class="m" x="443.4" y="658.4"/><text class="t" x="446" y="660.5">Lmi_Lomi1g01930</text></g>
<g id="lf085"><text class="b" x="460" y="666.2">0.0068</text><rect class="m" x="460.4" y="666.4"/><text class="t" x="463" y="668.5">Echma_Chma7g02933</text></g>
<g id="lf086"><text class="b" x="460" y="674.2">0.0179</text><rect class="m" x="460.4" y="674.4"/><text class="t" x="463" y="676.5">Echmu_Chmo1g00685</text></g>
<g id="lf087"><text class="b" x="505" y="682.2">0.0179</text><rect class="m" x="505.4" y="682.4"/><text class="t" x="508" y="684.5">Echmu_Chmo13g00849</text></g>
<g id="lf088"><text class="b" x="530" y="690.2">0.00995</text><rect class="m" x="530.4" y="690.4"/><text class="t" x="533" y="692.5">Crid_Crid8g00635</text></g>
<g id="lf089"><text class="b" x="552" y="698.2">0.0412</text><rect class="m" x="552.4" y="698.4"/><text class="t" x="555" y="700.5">Echmu_Chmo15g00565</text></g>
<g id="lf090"><text class="b" x="572" y="706.2">0.00977</text><rect class="m" x="572.4" y="706.4"/><text class="t" x="575" y="708.5">Echna_Chna8g02724</text></g>
<g id="lf091"><text class="bs" x="570" y="714.2">56.55</text><rect class="m" x="586" y="714.4"/><text class="t" x="589" y="716.5">Echa_Chba8g03579</text></g>
<g id="lf092"><text class="b" x="585" y="722.2">0.00995</text><rect class="m" x="585.4" y="722.4"/><text class="t" x="588" y="724.5">Echa_Chba8g03588</text></g>
<g id="lf093"><text class="b" x="511" y="729.2">0.0499</text><rect class="m" x="511.4" y="729.4"/><text class="t" x="514" y="731.5">Aary_Aary13g01275</text></g>
<g id="lf094"><text class="b" x="557" y="737.2">0.0825</text><rect class="m" x="557.4" y="737.4"/><text class="t" x="560" y="739.5">Aarn_Aarn8g02888</text></g>
<g id="lf095"><text class="b" x="538" y="745.2">0.0475</text><rect class="m" x="538.4" y="745.4"/><text class="t" x="541" y="747.5">Echmu_Chmo1g03799</text></g>
<g id="lf096"><text class="b" x="463" y="753.2">0.0279</text><rect class="m" x="463.4" y="753.4"/><text class="t" x="466" y="755.5">Arir_Arir8g02054</text></g>
<g id="lf097"><text class="bs" x="465.5" y="761.2">5</text><rect class="m" x="469" y="761.4"/><text class="t" x="472" y="763.5">Eran_Eran8g03305</text></g>
<g id="lf098"><text class="bs" x="465.5" y="769.2">5</text><rect class="m" x="469" y="769.4"/><text class="t" x="472" y="771.5">Eran_Eran8g03324</text></g>
<g id="lf099"><text class="b" x="461" y="777.2">0.0275</text><rect class="m" x="461.4" y="777.4"/><text class="t" x="464" y="779.5">Erdc_Erdc8g03305</text></g>
<g id="lf100"><text class="b" x="437" y="785.2">0.00773</text><rect class="m" x="437.4" y="785.4"/><text class="t" x="440" y="787.5">Scaa_Scaa10000001g02412</text></g>
<g id="lf101"><text class="b" x="457" y="792.2">0.0427</text><rect class="m" x="457.4" y="792.4"/><text class="t" x="460" y="794.5">Soca_Soca5g00457</text></g>
<g id="lf102"><text class="bs" x="433" y="800.2">56.55</text><rect class="m" x="449" y="800.4"/><text class="t" x="452" y="802.5">Soca_Soca5g00458</text></g>
<g id="lf103"><text class="b" x="473" y="807.2">0.0177</text><rect class="m" x="473.4" y="807.4"/><text class="t" x="476" y="809.5">Hsan_Hsan8g03811</text></g>
<g id="lf104"><text class="b" x="475" y="816.2">0.0579</text><rect class="m" x="475.4" y="816.4"/><text class="t" x="478" y="818.5">Hsiu_Hsiu4g00862</text></g>
<g id="lf105"><text class="b" x="485" y="824.2">0.00985</text><rect class="m" x="485.4" y="824.4"/><text class="t" x="488" y="826.5">Hsiu_Hsiu12g00585</text></g>
<g id="lf106"><text class="b" x="572" y="832.2">0.0882</text><rect class="m" x="572.4" y="832.4"/><text class="t" x="575" y="834.5">Hsiu_Hsiu5g01527</text></g>
<g id="lf107"><text class="b" x="1126" y="840.2">1.4</text><rect class="m" x="1126.4" y="840.4"/><text class="t" x="1129" y="842.5">Hsiu_Hsiu47g02550</text></g>
<g id="lf108"><text class="b" x="463" y="846.2">0.0488</text><rect class="m" x="463.4" y="846.4"/><text class="t" x="466" y="848.5">Amar_Amar10000055g00059</text></g>
<g id="lf109"><text class="b" x="473" y="856.2">0.0508</text><rect class="m" x="473.4" y="856.4"/><text class="t" x="476" y="858.5">Amir_Amir4g00218</text></g>
<g id="lf110"><text class="b" x="445" y="863.2">0.0137</text><rect class="m" x="445.4" y="863.4"/><text class="t" x="448" y="865.5">Bsap_Dap2g02892</text></g>
<g id="lf111"><text class="b" x="447" y="871.2">0.0117</text><rect class="m" x="447.4" y="871.4"/><text class="t" x="450" y="873.5">Bsap_Dap3g00654</text></g>
<g id="lf112"><text class="b" x="480" y="879.2">0.0575</text><rect class="m" x="480.4" y="879.4"/><text class="t" x="483" y="881.5">Smas_Smas4g00836</text></g>
<g id="lf113"><text class="b" x="481" y="887.2">0.0288</text><rect class="m" x="481.4" y="887.4"/><text class="t" x="484" y="889.5">Smas_Smas10g00222</text></g>
<g id="lf114"><text class="b" x="523" y="895.2">0.105</text><rect class="m" x="523.4" y="895.4"/><text class="t" x="526" y="897.5">Tsar_Tsar8g00225</text></g>
<g id="lf115"><text class="b" x="488" y="902.2">0.0855</text><rect class="m" x="488.4" y="902.4"/><text class="t" x="491" y="904.5">Amri_Amri7g00874</text></g>
<g id="lf116"><text class="b" x="547" y="911.2">0.155</text><rect class="m" x="547.4" y="911.4"/><text class="t" x="550" y="913.5">Hsub_Hsub10000005g00724</text></g>
<g id="lf117"><text class="b" x="565" y="919.2">0.15</text><rect class="m" x="565.4" y="919.4"/><text class="t" x="568" y="921.5">Soca_Soca5g00177</text></g>
<g id="lf118"><text class="b" x="448" y="926.2">0.0278</text><rect class="m" x="448.4" y="926.4"/><text class="t" x="451" y="928.5">Ern_Ern2g00279</text></g>
<g id="lf119"><text class="b" x="466" y="934.2">0.0179</text><rect class="m" x="466.4" y="934.4"/><text class="t" x="469" y="936.5">Erbr_Erbr1332486g00001</text></g>
<g id="lf120"><text class="b" x="490" y="942.2">0.0357</text><rect class="m" x="490.4" y="942.4"/><text class="t" x="493" y="944.5">Ers_Esu8g03180</text></g>
<g id="lf121"><text class="b" x="517" y="950.2">0.00977</text><rect class="m" x="517.4" y="950.4"/><text class="t" x="520" y="952.5">Era_Era1g00175</text></g>
<g id="lf122"><text class="b" x="537" y="957.2">0.00317</text><rect class="m" x="537.4" y="957.4"/><text class="t" x="540" y="959.5">Eru_Eru10000755g00001</text></g>
<g id="lf123"><text class="b" x="537" y="966.2">0.00995</text><rect class="m" x="537.4" y="966.4"/><text class="t" x="540" y="968.5">Eru_Era6g00176</text></g>
<g id="lf124"><text class="b" x="406" y="973.2">0.104</text><rect class="m" x="406.4" y="973.4"/><text class="t" x="409" y="975.5">Poly_Poly4g00826</text></g>
<g id="lf125"><text class="b" x="388" y="982.2">0.0622</text><rect class="m" x="388.4" y="982.4"/><text class="t" x="391" y="984.5">Ern_Ern4g00022</text></g>
<g id="scale"><path d="M5 990H33M5 988V991M33 988V991" stroke="#222" fill="none"/><text class="bs" x="6" y="997">0.05</text></g>
</svg>
